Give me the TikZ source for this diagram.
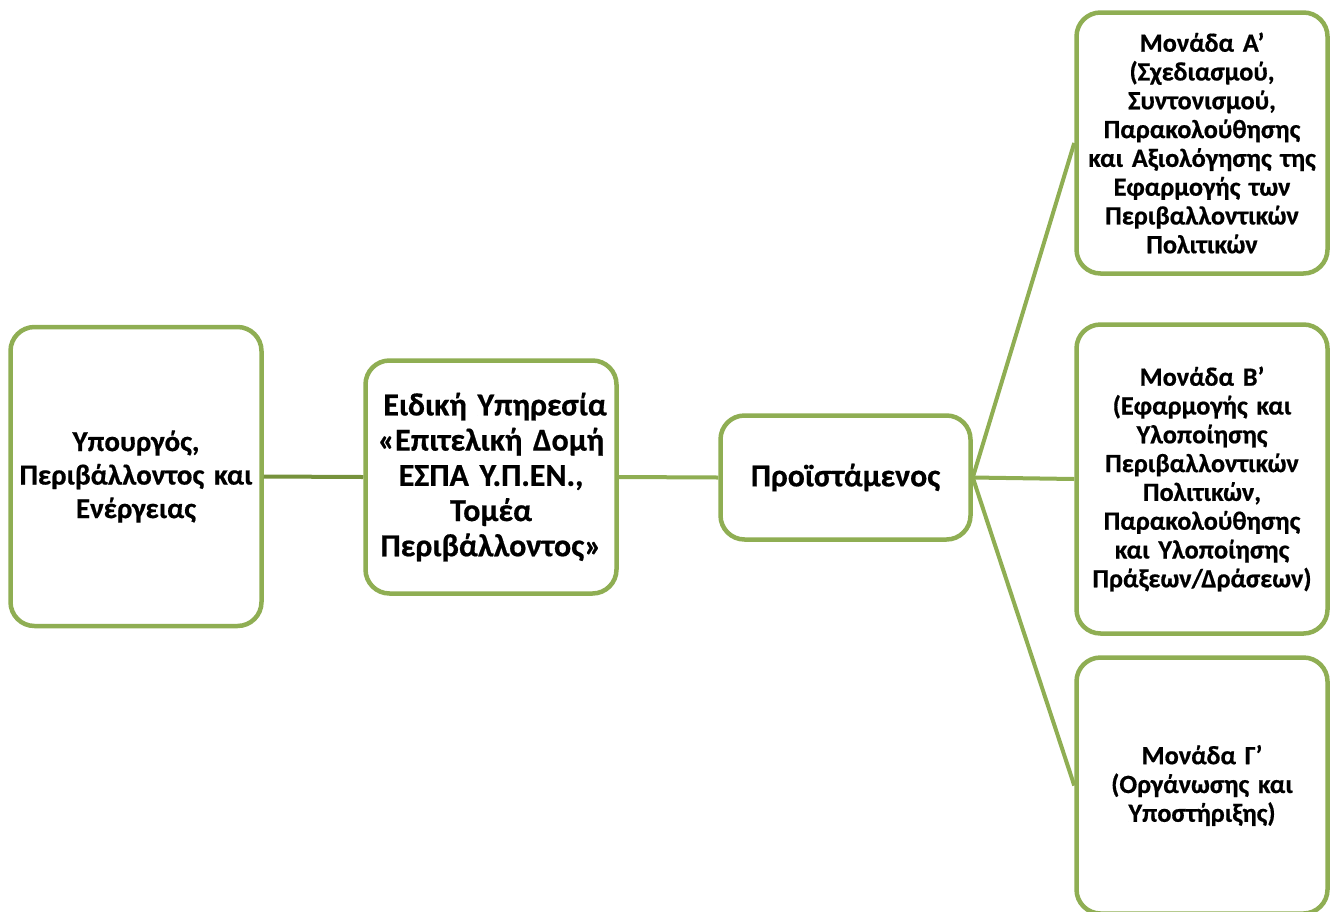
\documentclass[tikz,border=0pt]{standalone}
\usepackage{fontspec}
\setmainfont{Carlito}[BoldFeatures={FakeBold=0.6}]
\definecolor{boxgreen}{HTML}{8FAE53}
\definecolor{darkgreen}{HTML}{76923C}
\begin{document}
\begin{tikzpicture}[x=1pt,y=-1pt,
  box/.style={draw=boxgreen, line width=4.5pt, rounded corners=24pt, fill=white,
    align=center, inner sep=0pt, font=\bfseries},
  link/.style={draw=boxgreen, line width=4pt},
  darklink/.style={draw=darkgreen, line width=4pt}]
\useasboundingbox (0,0) rectangle (1335,911);
\clip (0,0) rectangle (1335,911);
\node[box, minimum width=251pt, minimum height=299pt, text width=245pt,
  font=\bfseries\fontsize{29}{33.5}\selectfont] (min) at (136,476.5)
  {Υπουργός,\\Περιβάλλοντος και\\Ενέργειας};
\node[box, minimum width=251pt, minimum height=233pt, text width=245pt,
  font=\bfseries\fontsize{32}{35.2}\selectfont] (eyd) at (491,477)
  {\hspace*{8pt}Ειδική Υπηρεσία\\«Επιτελική Δομή\\ΕΣΠΑ Υ.Π.ΕΝ.,\\Τομέα\\Περιβάλλοντος»};
\node[box, minimum width=250pt, minimum height=124pt, text width=245pt,
  font=\bfseries\fontsize{31.8}{35}\selectfont] (pro) at (845.5,477.5)
  {Προϊστάμενος};
\node[box, minimum width=251pt, minimum height=261pt, text width=245pt,
  font=\bfseries\fontsize{26.3}{28.8}\selectfont] (ma) at (1202,143)
  {Μονάδα Α’\\(Σχεδιασμού,\\Συντονισμού,\\Παρακολούθησης\\και Αξιολόγησης της\\Εφαρμογής των\\Περιβαλλοντικών\\Πολιτικών};
\node[box, minimum width=251pt, minimum height=309pt, text width=245pt,
  font=\bfseries\fontsize{26.3}{28.8}\selectfont] (mb) at (1202,479)
  {Μονάδα Β’\\(Εφαρμογής και\\Υλοποίησης\\Περιβαλλοντικών\\Πολιτικών,\\Παρακολούθησης\\και Υλοποίησης\\Πράξεων/Δράσεων)};
\node[box, minimum width=251pt, minimum height=256pt, text width=245pt,
  font=\bfseries\fontsize{26.3}{28.8}\selectfont] (mc) at (1202,785.5)
  {Μονάδα Γ’\\(Οργάνωσης και\\Υποστήριξης)};
\draw[darklink] (min.east) -- (eyd.west);
\draw[link] (eyd.east) -- (pro.west);
\draw[link] (pro.east) -- (ma.west);
\draw[link] (pro.east) -- (mb.west);
\draw[link] (pro.east) -- (mc.west);
\end{tikzpicture}
\end{document}
